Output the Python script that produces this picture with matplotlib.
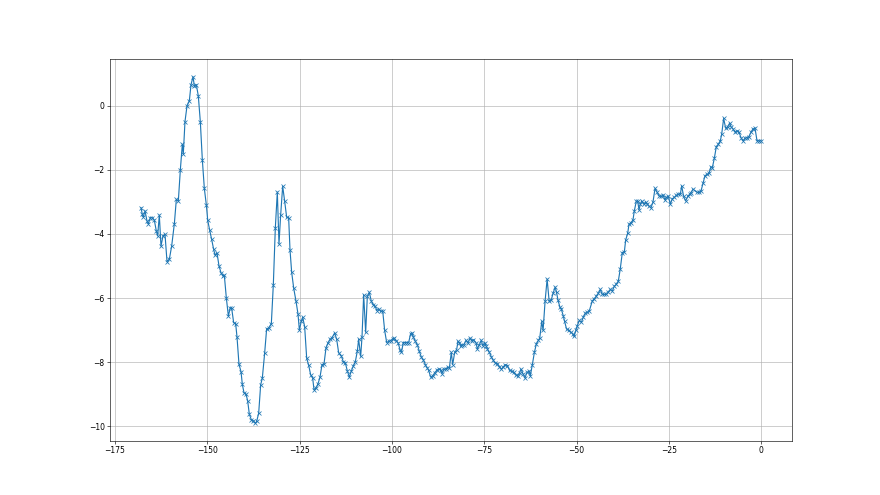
import matplotlib
matplotlib.use("Agg")
import matplotlib.pyplot as plt

x_values = [
    -167.96, -167.6, -167.33, -166.88, -166.34, -165.97, -165.43, -164.89, -164.35, -163.81,
    -163.45, -163.0, -162.55, -162.0, -161.46, -160.92, -160.29, -159.66, -158.93, -158.39,
    -157.85, -157.31, -156.77, -156.5, -156.05, -155.5, -154.87, -154.42, -153.88, -153.52,
    -152.98, -152.44, -151.9, -151.35, -150.81, -150.27, -149.9, -149.37, -148.83, -148.29,
    -147.92, -147.38, -146.84, -146.3, -145.76, -145.4, -144.86, -144.31, -143.77, -143.41,
    -142.87, -142.33, -141.97, -141.43, -140.88, -140.52, -140.07,
    -139.53, -139.08, -138.63, -138.09, -137.55, -137.0, -136.64, -136.1, -135.56, -135.11,
    -134.48, -133.94, -133.39, -132.67, -132.13, -131.59, -131.05, -130.6, -130.14, -129.6,
    -129.06, -128.52, -127.98, -127.62, -127.17, -126.62, -125.99, -125.45, -125.09, -124.55,
    -124.19, -123.65, -123.1, -122.56, -122.02, -121.48, -121.12, -120.58, -120.04, -119.49,
    -118.95, -118.41, -117.87, -117.33, -116.79, -116.25, -115.52, -114.98, -114.44, -113.72,
    -113.18, -112.64, -112.09, -111.55, -111.01, -110.47, -109.93, -109.39, -109.03,
    -108.48, -108.12, -107.67, -107.13, -106.68, -106.14, -105.6, -105.05, -104.51, -104.15,
    -103.61, -103.07, -102.53, -101.99, -101.44, -100.9, -100.36, -99.82, -99.46, -98.92,
    -98.38, -97.83, -97.47, -96.93, -96.39, -95.85, -95.49, -94.95, -94.58, -94.22,
    -93.68, -93.14, -92.6, -92.06, -91.52, -90.97, -90.43, -90.07, -89.53, -88.99,
    -88.45, -87.91, -87.36, -86.82, -86.46, -85.92, -85.38, -84.84, -84.48, -83.94,
    -83.57, -83.03, -82.49, -82.13, -81.77, -81.41, -81.05, -80.51, -79.96, -79.42,
    -78.88, -78.34, -77.98,
    -77.27, -76.91, -76.36, -75.82, -75.45, -74.91, -74.55, -74.18, -73.64, -73.09,
    -72.55, -72.0, -71.45, -70.91, -70.36, -69.82, -69.27, -68.73, -68.18, -67.64,
    -67.09, -66.55, -66.0, -65.45, -65.09, -64.55, -64.0, -63.45, -62.91, -62.55,
    -62.0, -61.45, -60.91, -60.36, -60.0, -59.45, -59.09, -58.55, -58.0, -57.45,
    -56.91, -56.36, -55.82, -55.45, -55.09, -54.55, -54.18, -53.64, -53.27, -52.73,
    -52.18, -51.64, -51.09, -50.73, -50.18, -49.82, -49.27, -48.73, -48.18, -47.64,
    -47.09, -46.55,
    -45.76, -45.22, -44.68, -44.13, -43.59, -43.05, -42.51, -41.97, -41.43, -40.88,
    -40.34, -39.8, -39.26, -38.72, -38.18, -37.64, -37.09, -36.73, -36.19, -35.83,
    -35.29, -34.75, -34.39, -33.84, -33.48, -33.12, -32.76, -32.4, -31.86, -31.32,
    -30.96, -30.42, -29.87, -29.33, -28.79, -28.25, -27.71, -27.17, -26.62, -26.08,
    -25.72, -25.18, -24.64, -24.1, -23.56, -23.01, -22.47, -21.93, -21.57, -21.03,
    -20.49, -19.95, -19.4, -19.04, -18.5,
    -17.42, -16.88, -16.34, -15.79, -15.25, -14.71, -14.17, -13.63, -13.27, -12.73,
    -12.18, -11.64, -11.1, -10.74, -10.2, -9.66, -9.12, -8.57, -8.21, -7.67,
    -7.13, -6.59, -6.05, -5.51, -4.96, -4.42, -3.88, -3.34, -2.80, -2.26,
    -1.71, -1.17, -0.63, -0.09,
]

y_values = [
    -3.18, -3.39, -3.47, -3.28, -3.59, -3.68, -3.49, -3.49, -3.57, -3.91,
    -4.06, -3.41, -4.38, -4.06, -4.01, -4.86, -4.79, -4.38, -3.68, -2.92,
    -2.97, -2.0, -1.20, -1.49, -0.49, 0.0, 0.16, 0.66, 0.91, 0.63,
    0.66, 0.31, -0.49, -1.69, -2.58, -3.09, -3.57, -3.88, -4.17, -4.48,
    -4.66, -4.59, -5.0, -5.21, -5.31, -5.29, -5.99, -6.56, -6.30, -6.32,
    -6.77, -6.80, -7.21, -8.07, -8.30, -8.70, -8.96,
    -9.0, -9.21, -9.63, -9.80, -9.83, -9.91, -9.85, -9.60, -8.71, -8.5,
    -7.72, -6.96, -6.94, -6.80, -5.58, -3.81, -2.69, -4.31, -3.40, -2.51,
    -2.98, -3.48, -3.5, -4.49, -5.19, -5.69, -6.10, -6.5, -6.99, -6.73,
    -6.6, -6.89, -7.88, -8.1, -8.40, -8.5, -8.86, -8.81, -8.68, -8.47,
    -8.08, -8.06, -7.56, -7.40, -7.29, -7.24, -7.09, -7.29, -7.71, -7.81,
    -7.99, -8.02, -8.28, -8.47, -8.28, -8.12, -7.99, -7.66, -7.29,
    -7.82, -7.22, -5.90, -7.07, -5.95, -5.82, -6.10, -6.21, -6.26, -6.39,
    -6.34, -6.42, -6.39, -7.01, -7.39, -7.35, -7.33, -7.28, -7.25, -7.33,
    -7.39, -7.61, -7.70, -7.39, -7.39, -7.39, -7.39, -7.11, -7.09, -7.22,
    -7.35, -7.46, -7.67, -7.84, -7.93, -8.08, -8.19, -8.26, -8.47, -8.43,
    -8.34, -8.26, -8.22, -8.24, -8.36, -8.22, -8.22, -8.16, -8.19, -7.70,
    -8.08, -7.70, -7.61, -7.35, -7.39, -7.51, -7.46, -7.46, -7.32, -7.41,
    -7.25, -7.35, -7.30,
    -7.39, -7.59, -7.46, -7.32, -7.49, -7.39, -7.49, -7.59, -7.70, -7.84,
    -7.95, -8.03, -8.05, -8.14, -8.22, -8.14, -8.08, -8.11, -8.26, -8.29,
    -8.32, -8.40, -8.43, -8.34, -8.22, -8.36, -8.5, -8.32, -8.29, -8.43,
    -8.08, -7.70, -7.43, -7.32, -7.25, -6.73, -7.01, -6.10, -5.41, -6.10,
    -6.07, -5.84, -5.66, -5.82, -6.05, -6.28, -6.34, -6.55, -6.73, -6.97,
    -7.01, -7.07, -7.11, -7.20, -6.99, -6.86, -6.70, -6.76, -6.59, -6.47,
    -6.45, -6.39,
    -6.09, -6.02, -5.94, -5.85, -5.73, -5.89, -5.89, -5.89, -5.81, -5.73,
    -5.78, -5.63, -5.57, -5.47, -5.08, -4.58, -4.56, -4.19, -3.98, -3.70,
    -3.65, -3.56, -3.28, -2.97, -2.97, -3.25, -3.07, -2.97, -3.07, -3.0,
    -3.07, -3.13, -3.18, -3.0, -2.58, -2.69, -2.81, -2.83, -2.79, -2.94,
    -2.86, -2.83, -3.07, -2.90, -2.86, -2.79, -2.76, -2.76, -2.5, -2.83,
    -2.97, -2.83, -2.76, -2.71, -2.60,
    -2.70, -2.70, -2.66, -2.42, -2.18, -2.14, -2.10, -1.90, -1.93, -1.64,
    -1.27, -1.20, -1.09, -0.89, -0.39, -0.70, -0.65, -0.54, -0.65, -0.72,
    -0.82, -0.78, -0.82, -0.99, -1.09, -1.01, -0.99, -0.96, -0.82, -0.72,
    -0.70, -1.09, -1.09, -1.09,
]

fig, ax = plt.subplots(figsize=(16, 9), dpi=55)
ax.plot(x_values, y_values, marker="x", color="#1f77b4", linewidth=1.5, markersize=6)
ax.grid(True, color="#b0b0b0", linewidth=0.8)
fig.savefig("out.png", dpi=55)
